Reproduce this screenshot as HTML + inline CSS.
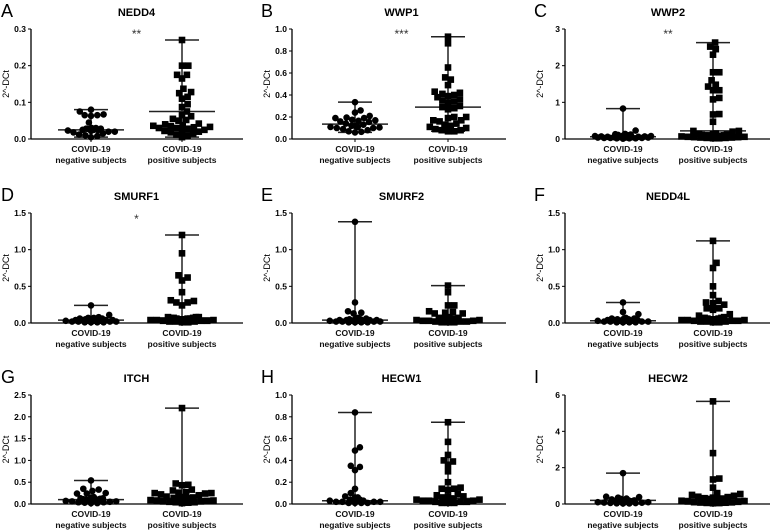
<!DOCTYPE html>
<html><head><meta charset="utf-8">
<style>
body{margin:0;background:#fff;}
svg{display:block;font-family:"Liberation Sans",Arial,sans-serif;}
.t{font-weight:bold;font-size:11px;text-anchor:middle;}
.tk{font-weight:bold;font-size:8.5px;text-anchor:end;}
.gl{font-weight:bold;font-size:8.5px;text-anchor:middle;fill:#111;}
.yl{font-size:9px;text-anchor:middle;}
.lt{font-size:18px;}
</style></head>
<body>
<svg id="fig" width="776" height="531" viewBox="0 0 776 531"></svg>
<script>
// ---- data (2^-DCt values) ----
const genes = ["NEDD4","WWP1","WWP2","SMURF1","SMURF2","NEDD4L","ITCH","HECW1","HECW2"];
const letters = ["A","B","C","D","E","F","G","H","I"];
const stars = ["**","***","**","*","","","","",""];
const yMaxes = [0.3,1.0,3,1.5,1.5,1.5,2.5,1.0,6];
const tickVals = [[0,0.1,0.2,0.3],[0,0.2,0.4,0.6,0.8,1.0],[0,1,2,3],[0,0.5,1.0,1.5],[0,0.5,1.0,1.5],[0,0.5,1.0,1.5],[0,0.5,1.0,1.5,2.0,2.5],[0,0.2,0.4,0.6,0.8,1.0],[0,2,4,6]];
const tickLabels = [["0.0","0.1","0.2","0.3"],["0.0","0.2","0.4","0.6","0.8","1.0"],["0","1","2","3"],["0.0","0.5","1.0","1.5"],["0.0","0.5","1.0","1.5"],["0.0","0.5","1.0","1.5"],["0.0","0.5","1.0","1.5","2.0","2.5"],["0.0","0.2","0.4","0.6","0.8","1.0"],["0","2","4","6"]];
const negValues = [
 [0.08,0.075,0.067,0.065,0.063,0.065,0.045,0.03,0.03,0.028,0.028,0.027,0.025,0.025,0.024,0.023,0.022,0.02,0.02,0.018,0.015,0.012,0.01,0.008,0.005],
 [0.335,0.26,0.24,0.21,0.195,0.19,0.19,0.175,0.17,0.165,0.16,0.155,0.14,0.13,0.12,0.12,0.11,0.11,0.105,0.1,0.1,0.09,0.08,0.07,0.065,0.06],
 [0.83,0.23,0.14,0.13,0.12,0.11,0.1,0.09,0.08,0.08,0.07,0.07,0.06,0.06,0.05,0.05,0.05,0.04,0.04,0.04,0.03,0.03,0.03,0.02,0.02,0.02,0.01],
 [0.24,0.11,0.08,0.07,0.07,0.06,0.06,0.05,0.05,0.05,0.04,0.04,0.04,0.04,0.03,0.03,0.03,0.03,0.02,0.02,0.02,0.02,0.01,0.01,0.01,0.01],
 [1.38,0.28,0.16,0.14,0.13,0.07,0.06,0.05,0.05,0.05,0.04,0.04,0.04,0.04,0.03,0.03,0.03,0.03,0.02,0.02,0.02,0.02,0.01,0.01,0.01,0.01],
 [0.28,0.15,0.12,0.07,0.06,0.06,0.05,0.05,0.05,0.04,0.04,0.04,0.03,0.03,0.03,0.03,0.02,0.02,0.02,0.02,0.01,0.01,0.01,0.01],
 [0.54,0.35,0.33,0.3,0.25,0.24,0.24,0.16,0.14,0.13,0.13,0.12,0.11,0.1,0.1,0.09,0.08,0.08,0.07,0.06,0.06,0.05,0.04,0.04,0.03,0.02,0.02],
 [0.84,0.52,0.49,0.35,0.34,0.31,0.14,0.1,0.07,0.06,0.06,0.04,0.04,0.03,0.03,0.03,0.03,0.02,0.02,0.02,0.02,0.01,0.01,0.01,0.01],
 [1.7,0.4,0.38,0.35,0.3,0.28,0.25,0.22,0.2,0.2,0.18,0.16,0.15,0.13,0.12,0.1,0.1,0.08,0.07,0.06,0.05,0.04,0.03,0.03]
];
const posValues = [
 [0.27,0.2,0.2,0.175,0.175,0.165,0.137,0.128,0.125,0.115,0.11,0.095,0.087,0.075,0.065,0.062,0.055,0.052,0.05,0.042,0.04,0.038,0.036,0.035,0.033,0.032,0.03,0.03,0.028,0.025,0.022,0.022,0.02,0.018,0.015,0.012,0.01,0.005],
 [0.93,0.87,0.65,0.56,0.54,0.49,0.42,0.43,0.41,0.4,0.39,0.38,0.36,0.35,0.34,0.33,0.3,0.29,0.28,0.27,0.2,0.2,0.19,0.17,0.17,0.16,0.14,0.13,0.12,0.11,0.1,0.09,0.08,0.08,0.07,0.07],
 [2.63,2.52,2.45,2.3,1.82,1.82,1.6,1.48,1.43,1.33,1.33,1.12,1.08,0.68,0.67,0.47,0.22,0.22,0.2,0.15,0.14,0.13,0.12,0.11,0.1,0.1,0.09,0.09,0.08,0.08,0.07,0.07,0.06,0.06,0.05,0.05,0.04,0.04,0.03,0.03,0.02,0.02],
 [1.2,0.95,0.65,0.62,0.58,0.42,0.31,0.3,0.28,0.28,0.24,0.08,0.08,0.08,0.07,0.07,0.07,0.06,0.06,0.06,0.05,0.05,0.05,0.04,0.04,0.04,0.03,0.03,0.03,0.02,0.02,0.02,0.01,0.01],
 [0.51,0.42,0.24,0.24,0.16,0.15,0.14,0.13,0.13,0.08,0.07,0.07,0.06,0.06,0.05,0.05,0.05,0.04,0.04,0.04,0.03,0.03,0.03,0.02,0.02,0.02,0.01,0.01,0.01],
 [1.12,0.82,0.75,0.5,0.38,0.3,0.28,0.27,0.25,0.2,0.2,0.18,0.12,0.1,0.08,0.07,0.07,0.06,0.06,0.05,0.05,0.05,0.04,0.04,0.04,0.03,0.03,0.03,0.02,0.02,0.02,0.01,0.01],
 [2.2,0.47,0.44,0.43,0.33,0.31,0.27,0.26,0.25,0.25,0.24,0.22,0.2,0.17,0.16,0.15,0.14,0.13,0.12,0.12,0.11,0.1,0.1,0.09,0.08,0.08,0.07,0.06,0.06,0.05,0.04,0.04,0.03,0.02],
 [0.75,0.57,0.45,0.4,0.39,0.36,0.3,0.2,0.15,0.14,0.14,0.13,0.09,0.08,0.07,0.07,0.06,0.05,0.05,0.05,0.04,0.04,0.04,0.03,0.03,0.03,0.02,0.02,0.02,0.01,0.01,0.01],
 [5.65,2.8,1.4,1.35,0.9,0.6,0.55,0.5,0.45,0.4,0.38,0.35,0.32,0.3,0.28,0.26,0.24,0.22,0.2,0.18,0.16,0.14,0.12,0.1,0.09,0.08,0.07,0.06,0.05,0.04]
];
const negMedians = [0.025,0.135,0.06,0.04,0.04,0.03,0.1,0.03,0.2];
const posMedians = [0.075,0.29,0.22,0.07,0.04,0.06,0.13,0.05,0.3];

// ---- layout ----
const colAxisX = [31,292,565];
const colG1 = [91,355,623];
const colG2 = [182,448,713];
const colEnd = [243,506,770];
const rowTop = [29,213,395];
const rowBot = [139,323,504];
const NS="http://www.w3.org/2000/svg";
const svg=document.getElementById('fig');
function mk(tag,attrs,parent){const e=document.createElementNS(NS,tag);for(const k in attrs)e.setAttribute(k,attrs[k]);(parent||svg).appendChild(e);return e;}
function swarm(vals,cx,ys,r,maxOff){
  const order=vals.map((v,i)=>i).sort((a,b)=>vals[a]-vals[b]);
  const placed=[];const pos=new Array(vals.length);
  const tryAt=(y,minD)=>{for(let k=0;;k++){const off=(k%2?1:-1)*Math.ceil(k/2)*0.7;if(Math.abs(off)>maxOff)return null;const x=cx+off;
      if(placed.every(p=>(p[0]-x)**2+(p[1]-y)**2>=minD*minD))return x;}};
  order.forEach(i=>{let y=ys(vals[i]);let x=null;
    while(x===null){
      x=tryAt(y,2*r*0.92);
      if(x===null)x=tryAt(y,2*r*0.42);
      if(x===null)y-=0.6;
    }
    placed.push([x,y]);pos[i]=[x,y];
  });
  return pos;
}
for(let p=0;p<9;p++){
  const c=p%3,r=Math.floor(p/3);
  const g=mk('g',{});
  
  
  const ax=colAxisX[c],top=rowTop[r],bot=rowBot[r],end=colEnd[c];
  const ys=v=>bot-(v/yMaxes[p])*(bot-top);
  const L=mk('text',{x:c===0?1:ax-31,y:top-12,class:'lt'},g);L.textContent=letters[p];
  
  const T=mk('text',{x:(colG1[c]+colG2[c])/2,y:top-13,class:'t'},g);T.textContent=genes[p];
  
  const yl=mk('text',{x:0,y:0,class:'yl',transform:`translate(${ax-22},${(top+bot)/2}) rotate(-90)`},g);yl.textContent='2^-DCt';
  
  const yaxis=mk('line',{x1:ax,y1:top,x2:ax,y2:bot,stroke:'#000','stroke-width':1.3},g);
  
  const xaxis=mk('line',{x1:ax,y1:bot,x2:end,y2:bot,stroke:'#000','stroke-width':1.3},g);
  
  tickVals[p].forEach((v,i)=>{const y=ys(v);
    mk('line',{x1:ax-3,y1:y,x2:ax,y2:y,stroke:'#000'},g);
    const t=mk('text',{x:ax-5,y:y+3,class:'tk'},g);t.textContent=tickLabels[p][i];
    });
  [colG1[c],colG2[c]].forEach((gx,gi)=>{
    mk('line',{x1:gx,y1:bot,x2:gx,y2:bot+3,stroke:'#000'},g);
    const a=mk('text',{x:gx,y:bot+13,class:'gl'},g);a.textContent='COVID-19';
    
    const b=mk('text',{x:gx,y:bot+24,class:'gl'},g);b.textContent=gi?'positive subjects':'negative subjects';
    
    const vals=gi?posValues[p]:negValues[p];const med=gi?posMedians[p]:negMedians[p];
    const mx=Math.max(...vals),mn=Math.min(...vals);
    const eb=mk('g',{stroke:'#222','stroke-width':1.5},g);
    
    mk('line',{x1:gx,y1:ys(mx),x2:gx,y2:ys(mn)},eb);
    mk('line',{x1:gx-17,y1:ys(mx),x2:gx+17,y2:ys(mx)},eb);
    mk('line',{x1:gx-17,y1:ys(mn),x2:gx+17,y2:ys(mn)},eb);
    mk('line',{x1:gx-33,y1:ys(med),x2:gx+33,y2:ys(med)},eb);
    const pts=swarm(vals,gx,ys,3.2,gi?32:28);
    vals.forEach((v,i)=>{let m;const [px,py]=pts[i];
      if(gi) m=mk('rect',{x:px-3.3,y:py-3.3,width:6.6,height:6.6,fill:'#000'},g);
      else m=mk('circle',{cx:px,cy:py,r:3.3,fill:'#000'},g);
      
      });
  });
  if(stars[p]){const s=mk('text',{x:(colG1[c]+colG2[c])/2,y:top+(p===3?10:9),'font-size':'12px','text-anchor':'middle',fill:'#333'},g);s.textContent=stars[p];
    }
}
</script>
</body></html>
